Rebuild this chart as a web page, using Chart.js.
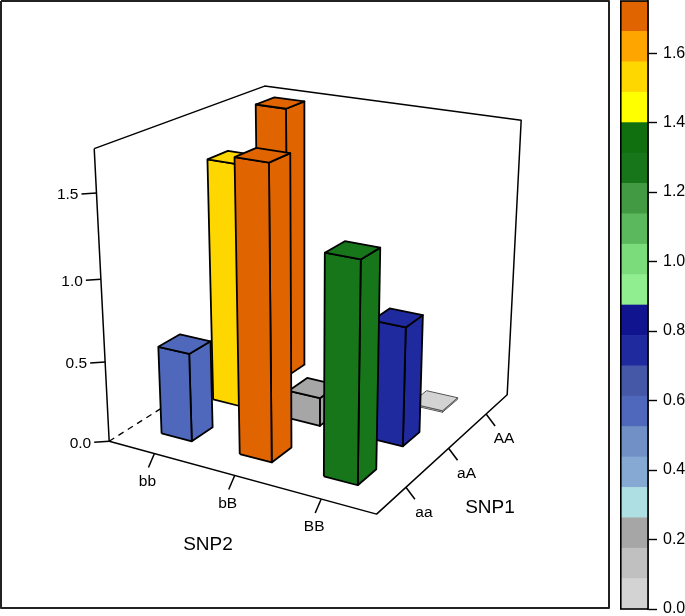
<!DOCTYPE html>
<html><head><meta charset="utf-8">
<style>html,body{margin:0;padding:0;background:#fff;width:685px;height:616px;overflow:hidden}
canvas{position:absolute;top:0}</style>
<script src="https://cdn.jsdelivr.net/npm/chart.js@4/dist/chart.umd.min.js"></script>
</head><body>
<canvas id="main" width="612" height="612" style="left:0"></canvas>
<canvas id="key" width="65" height="616" style="left:620px"></canvas>
<script>
const snp2Labels = ['bb','bB','BB'];
const snp1Labels = ['aa','aA','AA'];
// values[snp1][snp2]
const valuesAA = [1.745, 0.01, 0.01];
const valueAa  = [1.53, 0.18, 0.74];
const valuesaa = [0.55, 1.75, 1.31];
const zTicks = [0, 0.5, 1.0, 1.5];
const zMax = 1.75;
const keyTicksStep = 0.2;
const levelBreaks = [0,.0875,.175,.2625,.35,.4375,.525,.6125,.7,.7875,.875,.9625,1.05,1.1375,1.225,1.3125,1.4,1.4875,1.575,1.6625,1.75];
const levelColors = ['#d3d3d3','#c0c0c0','#a6a6a6','#aedfe2','#86a9d4','#7090c6','#4f68bb','#4558a8','#1f2a9e','#11148f',
                     '#90ee90','#7bdc7b','#5cb85c','#429a42','#17751a','#107010','#ffff00','#ffd700','#ffa500','#e06400'];
const uPos = [0.177,0.487,0.802];
const vPos = [0.197,0.51,0.815];
const barHalfU = 0.061, barHalfV = 0.0623;

// frame calibration: (u,v,w) -> picture position of the box corners
const corners = [[0,0,0,109,441],[1,0,0,377,514],[1,1,0,507,395],[0,0,1,94,149],[1,1,1,521,120],[0,1,1,265,86]];
function solveCamera(){
  const A=[],b=[];
  corners.forEach(([u,v,w,x,y])=>{
    A.push([1,u,v,w,0,0,0,0,-x*u,-x*v,-x*w]);b.push(x);
    A.push([0,0,0,0,1,u,v,w,-y*u,-y*v,-y*w]);b.push(y);
  });
  const n=11,M=[];
  for(let i=0;i<n;i++){const r=[];for(let j=0;j<n;j++){let s=0;for(let k=0;k<A.length;k++)s+=A[k][i]*A[k][j];r.push(s+(i===j?1e-9:0));}
    let s=0;for(let k=0;k<A.length;k++)s+=A[k][i]*b[k];r.push(s);M.push(r);}
  for(let i=0;i<n;i++){let p=i;for(let r=i+1;r<n;r++)if(Math.abs(M[r][i])>Math.abs(M[p][i]))p=r;[M[i],M[p]]=[M[p],M[i]];
    for(let r=0;r<n;r++)if(r!==i){const f=M[r][i]/M[i][i];for(let c=i;c<=n;c++)M[r][c]-=f*M[i][c];}}
  return M.map((r,i)=>r[n]/r[i]);
}
const cam = solveCamera();
function proj(u,v,w){const d=1+cam[8]*u+cam[9]*v+cam[10]*w;
  return {x:(cam[0]+cam[1]*u+cam[2]*v+cam[3]*w)/d,y:(cam[4]+cam[5]*u+cam[6]*v+cam[7]*w)/d};}
const uOf=i=>uPos[i], vOf=j=>vPos[j], wOf=z=>z/zMax;
const colorOf=z=>{for(let i=0;i<levelColors.length;i++)if(z<=levelBreaks[i+1])return levelColors[i];return levelColors[levelColors.length-1];};

function poly(pts,fillColor,opts){
  return Object.assign({type:'scatter',showLine:true,data:pts,borderColor:'#000',borderWidth:1.8,pointRadius:0,
    tension:0,clip:false,borderJoinStyle:'round',fill:fillColor?'shape':false,backgroundColor:fillColor||'transparent'},opts||{});
}
const painted=[];   // paint order: back to front
// frame
painted.push(poly([{x:1,y:1},{x:609,y:1},{x:609,y:608},{x:1,y:608},{x:1,y:1}],null,{borderColor:'#222',borderWidth:2}));
// box
painted.push(poly([proj(0,0,0),proj(0,1,0)],null,{borderDash:[6,5],borderWidth:1.3}));
painted.push(poly([proj(0,0,1),proj(0,0,0),proj(1,0,0),proj(1,1,0),proj(1,1,1),proj(0,1,1),proj(0,0,1)],null,{borderWidth:1.5}));
// axis ticks
const tickOut={u:[-6,14],v:[9,12],z:[-15,1]};
snp2Labels.forEach((_,i)=>{const p=proj(uOf(i)+0.006,0,0);painted.push(poly([p,{x:p.x+tickOut.u[0],y:p.y+tickOut.u[1]}],null,{borderWidth:1.5}));});
snp1Labels.forEach((_,j)=>{const p=proj(1,vOf(j),0);painted.push(poly([p,{x:p.x+tickOut.v[0],y:p.y+tickOut.v[1]}],null,{borderWidth:1.5}));});
zTicks.forEach(z=>{const p=proj(0,0,wOf(z));painted.push(poly([p,{x:p.x+tickOut.z[0],y:p.y+tickOut.z[1]}],null,{borderWidth:1.5}));});
// bars
const rows=[valuesaa,valueAa,valuesAA];
for(let j=2;j>=0;j--){for(let i=0;i<3;i++){
  const z=rows[j][i],c=colorOf(z),w=wOf(z);
  const u0=uOf(i)-barHalfU,u1=uOf(i)+barHalfU,v0=vOf(j)-barHalfV,v1=vOf(j)+barHalfV;
  const edge=z<0.05?{borderWidth:1,borderColor:'#555'}:{};
  painted.push(poly([proj(u1,v0,0),proj(u1,v1,0),proj(u1,v1,w),proj(u1,v0,w),proj(u1,v0,0)],c,edge));
  painted.push(poly([proj(u0,v0,0),proj(u1,v0,0),proj(u1,v0,w),proj(u0,v0,w),proj(u0,v0,0)],c,edge));
  painted.push(poly([proj(u0,v0,w),proj(u1,v0,w),proj(u1,v1,w),proj(u0,v1,w),proj(u0,v0,w)],c,edge));
}}
const labelFont='15.5px "Liberation Sans"';
const textPlugin={id:'texts',afterDraw(ch){
  const c=ch.ctx,sx=ch.scales.x,sy=ch.scales.y;c.save();c.fillStyle='#000';c.textBaseline='middle';c.textAlign='center';c.font=labelFont;
  const put=(t,x,y)=>c.fillText(t,sx.getPixelForValue(x),sy.getPixelForValue(y));
  snp2Labels.forEach((t,i)=>{const p=proj(uOf(i)+0.006,0,0);put(t,p.x-7,p.y+28);});
  snp1Labels.forEach((t,j)=>{const p=proj(1,vOf(j),0);put(t,p.x+18,p.y+25);});
  c.textAlign='right';
  zTicks.forEach(z=>{const p=proj(0,0,wOf(z));put(z.toFixed(1),p.x-18,p.y+2);});
  c.textAlign='center';c.font='19px "Liberation Sans"';
  put('SNP2',208,545);put('SNP1',490,508);
  c.restore();
}};
new Chart(document.getElementById('main'),{
  type:'scatter',
  data:{datasets:painted.slice().reverse()},
  options:{responsive:false,animation:false,events:[],layout:{padding:0,autoPadding:false},
    plugins:{legend:{display:false},tooltip:{enabled:false}},
    scales:{x:{type:'linear',min:0,max:612,display:false},y:{type:'linear',min:0,max:612,reverse:true,display:false}}},
  plugins:[textPlugin]
});
// colour key
const keyBox={id:'keyBox',afterDatasetsDraw(ch){const a=ch.chartArea,c=ch.ctx;c.save();c.strokeStyle='#000';c.lineWidth=1.6;
  c.strokeRect(a.left+0.8,a.top,a.right-a.left-0.8,a.bottom-a.top);c.restore();}};
new Chart(document.getElementById('key'),{
  type:'bar',
  data:{labels:['key'],datasets:levelColors.map((col,i)=>({data:[[levelBreaks[i],levelBreaks[i+1]]],backgroundColor:col,borderWidth:0,
    categoryPercentage:1,barPercentage:1,grouped:false}))},
  options:{responsive:false,animation:false,events:[],layout:{padding:{top:1,bottom:7,left:0,right:0},autoPadding:false},
    plugins:{legend:{display:false},tooltip:{enabled:false}},
    scales:{x:{display:false},
      y:{position:'right',min:0,max:zMax,afterFit(s){s.width=37;s.paddingTop=0;s.paddingBottom=0;},
        border:{display:true,color:'#000',width:1.5},
        grid:{drawOnChartArea:false,color:'#000',tickColor:'#000',tickLength:9,tickWidth:1.4},
        ticks:{stepSize:keyTicksStep,includeBounds:false,padding:6,color:'#000',font:{family:'Liberation Sans',size:16},
          callback:v=>v.toFixed(1)}}}},
  plugins:[keyBox]
});
</script></body></html>
